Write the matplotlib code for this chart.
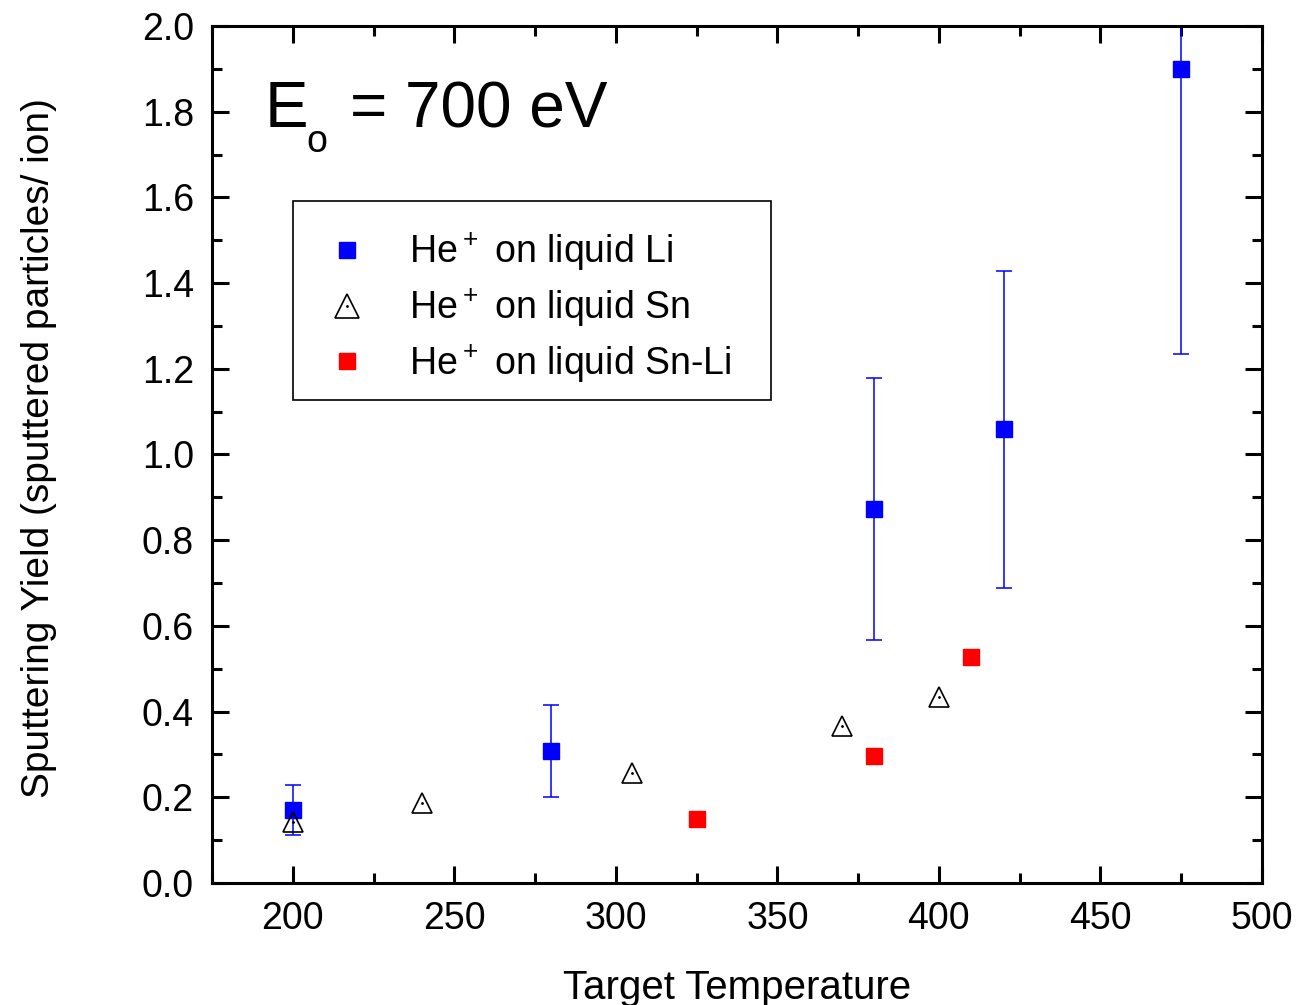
import matplotlib
matplotlib.use('Agg')
import matplotlib.pyplot as plt
from matplotlib.lines import Line2D
from matplotlib.legend_handler import HandlerTuple
from matplotlib.ticker import MultipleLocator, FormatStrFormatter

plt.rcParams['font.family'] = ['Liberation Sans', 'DejaVu Sans']
plt.rcParams['mathtext.fontset'] = 'custom'
plt.rcParams['mathtext.rm'] = 'Liberation Sans'

# He+ on liquid Li (with error bars)
li_temp = [200, 280, 380, 420, 475]
li_yield = [0.170, 0.308, 0.873, 1.059, 1.899]
li_err = [0.058, 0.108, 0.306, 0.370, 0.665]

# He+ on liquid Sn
sn_temp = [200, 240, 305, 370, 400]
sn_yield = [0.142, 0.186, 0.257, 0.367, 0.435]

# He+ on liquid Sn-Li
snli_temp = [325, 380, 410]
snli_yield = [0.149, 0.297, 0.527]

fig = plt.figure(figsize=(13.01, 10.05), dpi=100)
ax = fig.add_axes([212 / 1301, 1 - 883 / 1005, 1050 / 1301, 857 / 1005])

blue = '#0000FF'
red = '#FF0000'

ax.errorbar(li_temp, li_yield, yerr=li_err, fmt='none', ecolor=blue,
            elinewidth=1.1, capsize=5.8, capthick=1.1, zorder=2)
ax.plot(li_temp, li_yield, 's', color=blue, ms=11.5, mec=blue, zorder=3)
ax.plot(sn_temp, sn_yield, '^', ms=14, mfc='none', mec='black', mew=1.2, zorder=3)
ax.plot(sn_temp, sn_yield, '.', ms=2, color='black', zorder=4)
ax.plot(snli_temp, snli_yield, 's', color=red, ms=11.5, mec=red, zorder=3)

ax.set_xlim(175, 500)
ax.set_ylim(0, 2.0)
ax.xaxis.set_major_locator(MultipleLocator(50))
ax.xaxis.set_minor_locator(MultipleLocator(25))
ax.yaxis.set_major_locator(MultipleLocator(0.2))
ax.yaxis.set_minor_locator(MultipleLocator(0.1))
ax.yaxis.set_major_formatter(FormatStrFormatter('%.1f'))

for s in ax.spines.values():
    s.set_linewidth(2.2)
ax.tick_params(which='both', direction='in', top=True, right=True, width=2.2,
               labelsize=27)
ax.tick_params(which='major', length=12)
ax.tick_params(which='minor', length=7)
ax.tick_params(axis='x', pad=13)
ax.tick_params(axis='y', pad=13)

ax.set_xlabel('Target Temperature', fontsize=29)
ax.xaxis.set_label_coords(0.5, -0.1)
ax.set_ylabel('Sputtering Yield (sputtered particles/ ion)', fontsize=28)
ax.yaxis.set_label_coords(-0.148, 0.508)

# E_o = 700 eV
fig.text(265 / 1301, 1 - 127 / 1005, 'E', fontsize=47, va='baseline', ha='left')
fig.text(306 / 1301, 1 - 152 / 1005, 'o', fontsize=27, va='baseline', ha='left')
fig.text(350 / 1301, 1 - 127 / 1005, '= 700 eV', fontsize=46, va='baseline', ha='left')

h_li = Line2D([], [], ls='none', marker='s', color=blue, ms=11.5)
h_sn = (Line2D([], [], ls='none', marker='^', ms=17, mfc='none', mec='black', mew=1.2),
        Line2D([], [], ls='none', marker='.', ms=2, color='black'))
h_snli = Line2D([], [], ls='none', marker='s', color=red, ms=11.5)
leg = ax.legend([h_li, h_sn, h_snli],
                [r'He$^+$ on liquid Li',
                 r'He$^+$ on liquid Sn',
                 r'He$^+$ on liquid Sn-Li   '],
                handler_map={tuple: HandlerTuple(ndivide=1, pad=0)},
                loc='upper left', bbox_to_anchor=(81 / 1050, (883 - 201) / 857),
                borderaxespad=0, fontsize=27, fancybox=False, edgecolor='black',
                framealpha=1, labelspacing=0.36, handlelength=2.05,
                handletextpad=0.63, borderpad=0.42, title=' ', title_fontsize=1)
leg.get_frame().set_linewidth(1.2)

fig.savefig('out.png', dpi=100)
